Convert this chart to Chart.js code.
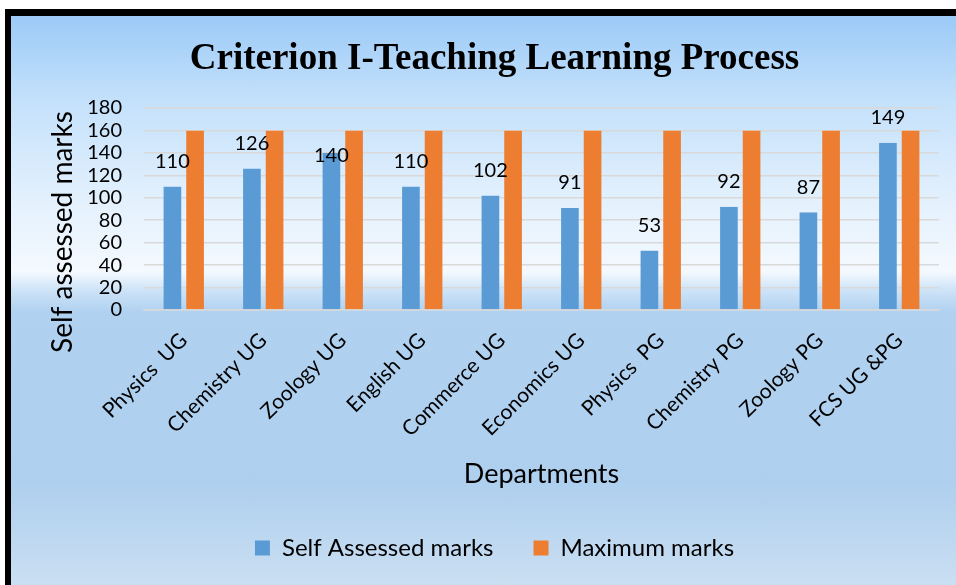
<!DOCTYPE html>
<html>
<head>
<meta charset="utf-8">
<script src="https://cdn.jsdelivr.net/npm/chart.js@4.4.1/dist/chart.umd.min.js"></script>
<style>
  html, body { margin: 0; padding: 0; background: #fff; }
  #panel {
    position: absolute; left: 5px; top: 9px; width: 951px; height: 576px;
    box-sizing: border-box;
    border-top: 7px solid #000; border-left: 6px solid #000;
    background: linear-gradient(to bottom,
      #9ccaf7 0%, #c4e1fb 15%, #e4f1fd 33%, #f4f9fe 45%, #cfe4f8 48%,
      #b0d1f0 52%, #aecfee 82%, #cadff2 100%);
  }
  #wrap { position: absolute; left: 0; top: 0; width: 956px; height: 585px; }
</style>
</head>
<body>
<div id="panel"></div>
<div id="wrap"><canvas id="chart"></canvas></div>
<script>
const departments = ["Physics  UG", "Chemistry UG", "Zoology UG", "English UG", "Commerce UG",
  "Economics UG", "Physics  PG", "Chemistry PG", "Zoology PG", "FCS UG &PG"];
const selfAssessed = [110, 126, 140, 110, 102, 91, 53, 92, 87, 149];
const maximumMarks = [160, 160, 160, 160, 160, 160, 160, 160, 160, 160];

const sans = "Lato, 'Open Sans', sans-serif";

// value labels above the blue bars
const valueLabels = {
  id: "valueLabels",
  afterDatasetsDraw(chart, args, opts) {
    const ctx = chart.ctx;
    const meta = chart.getDatasetMeta(0);
    ctx.save();
    ctx.font = "20px " + sans;
    ctx.fillStyle = "#000";
    ctx.textAlign = "center";
    ctx.textBaseline = "middle";
    meta.data.forEach((bar, i) => {
      const shift = (opts.nudge && opts.nudge[i]) || 0;
      ctx.fillText(chart.data.datasets[0].data[i], bar.x, bar.y - 25 + shift);
    });
    ctx.restore();
  }
};

// y axis title, centred a bit lower than the plot like the original
const yTitle = {
  id: "yTitle",
  afterDraw(chart, args, opts) {
    const ctx = chart.ctx;
    ctx.save();
    ctx.translate(opts.x, opts.y);
    ctx.rotate(-Math.PI / 2);
    ctx.font = "28px " + sans;
    ctx.fillStyle = "#000";
    ctx.textAlign = "center";
    ctx.textBaseline = "middle";
    ctx.fillText(opts.text, 0, 0);
    ctx.restore();
  }
};

new Chart(document.getElementById("chart"), {
  type: "bar",
  data: {
    labels: departments,
    datasets: [
      { label: "Self Assessed marks", data: selfAssessed, backgroundColor: "#5b9bd5",
        borderColor: "rgba(0,0,0,0)", borderWidth: { left: 2.5, right: 2.5, top: 0, bottom: 0 } },
      { label: "Maximum marks", data: maximumMarks, backgroundColor: "#ed7d31",
        borderColor: "rgba(0,0,0,0)", borderWidth: { left: 2.5, right: 2.5, top: 0, bottom: 0 } }
    ]
  },
  options: {
    responsive: true,
    maintainAspectRatio: false,
    animation: false,
    layout: { padding: { left: 50, right: 17, top: 15, bottom: 15 } },
    datasets: { bar: { categoryPercentage: 0.57, barPercentage: 1.0 } },
    scales: {
      y: {
        min: 0, max: 180,
        ticks: { stepSize: 20, autoSkip: false, color: "#000", font: { family: sans, size: 20 }, padding: 22 },
        grid: { color: "#d9d9d9", lineWidth: 1.5, drawTicks: false },
        border: { display: false },
        afterFit(axis) { axis.width = 94; }
      },
      x: {
        ticks: { color: "#000", font: { family: sans, size: 21 }, maxRotation: 45, minRotation: 45,
                 padding: 18, autoSkip: false },
        grid: { display: false, drawTicks: false },
        border: { color: "#d9d9d9", width: 1.5 },
        title: { display: true, text: "Departments", color: "#000",
                 font: { family: sans, size: 27 }, padding: { top: 0, bottom: 6 } },
        afterFit(axis) { axis.height = 186; }
      }
    },
    plugins: {
      title: {
        display: true, text: "Criterion I-Teaching Learning Process", color: "#000",
        font: { family: "'Liberation Serif', 'Times New Roman', serif", size: 37, weight: "bold" },
        padding: { top: 22, bottom: 26.6 }
      },
      legend: {
        position: "bottom",
        labels: { color: "#000", font: { family: sans, size: 24 }, boxWidth: 15, boxHeight: 15, padding: 40 }
      },
      tooltip: { enabled: false },
      valueLabels: { nudge: { 2: 28 } },
      yTitle: { text: "Self assessed marks", x: 63, y: 232 }
    }
  },
  plugins: [valueLabels, yTitle]
});
</script>
</body>
</html>
